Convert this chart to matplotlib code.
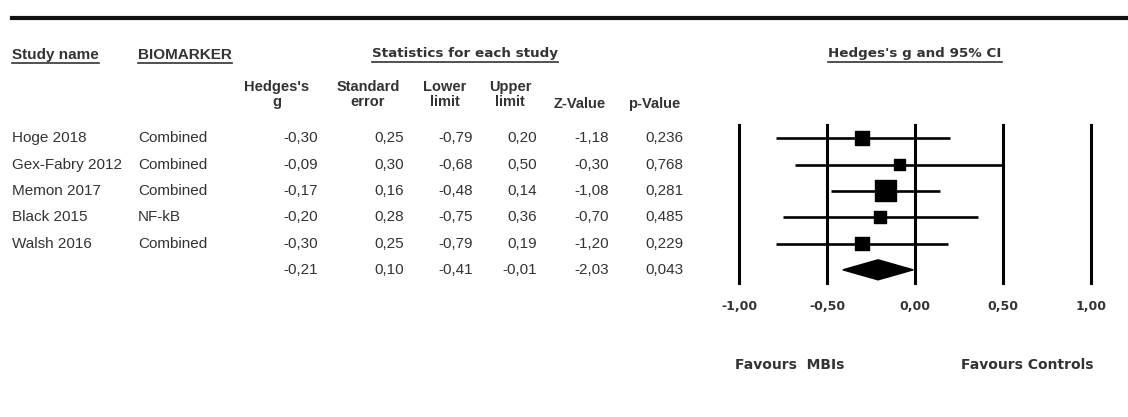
import numpy as np
import matplotlib
matplotlib.use("Agg")
import matplotlib.pyplot as plt
import matplotlib.transforms as mtransforms
from matplotlib.lines import Line2D
from matplotlib.patches import Polygon

# ----------------
# DATA FROM CHART
# ----------------
studies = ["Hoge 2018", "Gex-Fabry 2012", "Memon 2017", "Black 2015", "Walsh 2016"]
biomarker = ["Combined", "Combined", "Combined", "NF-kB", "Combined"]
hedges_g = [-0.30, -0.09, -0.17, -0.20, -0.30]
std_err = [0.25, 0.30, 0.16, 0.28, 0.25]
lower = [-0.79, -0.68, -0.48, -0.75, -0.79]
upper = [0.20, 0.50, 0.14, 0.36, 0.19]
z_val = [-1.18, -0.30, -1.08, -0.70, -1.20]
p_val = [0.236, 0.768, 0.281, 0.485, 0.229]

# pooled (summary) row
pooled_g = -0.21
pooled_se = 0.10
pooled_lower = -0.41
pooled_upper = -0.01
pooled_z = -2.03
pooled_p = 0.043

xticks = [-1.0, -0.5, 0.0, 0.5, 1.0]


def fmt(v, d=2):
    # comma as decimal sign, like the original
    return f"{v:.{d}f}".replace(".", ",")


W, H = 1128, 417
TXT = "#333333"
TABLE_FONT = "Liberation Sans"
HEAD_FONT = "DejaVu Sans"

fig = plt.figure(figsize=(W / 100, H / 100), dpi=100)
fig.patch.set_facecolor("white")

# --------------
# FOREST PANEL
# --------------
ax = fig.add_axes([739 / W, 1 - 283 / H, (1091 - 739) / W, 158 / H])
ax.set_xlim(-1, 1)
ax.set_ylim(5.5, -0.5)
ax.axis("off")

rows = np.arange(len(studies))
for t in xticks:
    ax.axvline(t, color="black", lw=2.2, clip_on=False)

ax.hlines(rows, lower, upper, color="black", lw=1.9, clip_on=False)

# square side proportional to sqrt of inverse-variance weight
w = 1 / np.array(std_err) ** 2
side_px = 3.36 * np.sqrt(w)
side_pt = side_px * 72 / fig.dpi
ax.scatter(hedges_g, rows, marker="s", s=side_pt ** 2, color="black", zorder=3, clip_on=False)

# diamond for pooled effect
yd = len(studies)
hd = 0.38
ax.add_patch(Polygon([(pooled_lower, yd), (pooled_g, yd - hd), (pooled_upper, yd), (pooled_g, yd + hd)],
                     closed=True, color="black", zorder=3, clip_on=False))

xtr = ax.get_xaxis_transform()
for t in xticks:
    ax.text(t, -0.146, fmt(t), transform=xtr, ha="center", va="center",
            fontsize=9, fontweight="bold", family=HEAD_FONT, color=TXT)

fig.text(790 / W, 1 - 365 / H, "Favours  MBIs", ha="center", va="center",
         fontsize=10, fontweight="bold", family=HEAD_FONT, color=TXT)
fig.text(1027 / W, 1 - 365 / H, "Favours Controls", ha="center", va="center",
         fontsize=10, fontweight="bold", family=HEAD_FONT, color=TXT)

# ------------
# TABLE PART
# ------------
trans = mtransforms.blended_transform_factory(fig.transFigure, ax.transData)
FS = 11

cols = [
    (12, "left", studies, None),
    (138, "left", biomarker, None),
    (318, "right", hedges_g, 2),
    (404, "right", std_err, 2),
    (473, "right", lower, 2),
    (537, "right", upper, 2),
    (609, "right", z_val, 2),
    (683, "right", p_val, 3),
]
for x, ha, vals, d in cols:
    for r, v in zip(rows, vals):
        s = v if d is None else fmt(v, d)
        fig.text(x / W, r, s, transform=trans, ha=ha, va="center",
                 fontsize=FS, family=TABLE_FONT, color=TXT)

pooled_vals = [(318, pooled_g, 2), (404, pooled_se, 2), (473, pooled_lower, 2),
               (537, pooled_upper, 2), (609, pooled_z, 2), (683, pooled_p, 3)]
for x, v, d in pooled_vals:
    fig.text(x / W, yd, fmt(v, d), transform=trans, ha="right", va="center",
             fontsize=FS, family=TABLE_FONT, color=TXT)


# column headers
def px_text(x, y, s, **kw):
    return fig.text(x / W, 1 - y / H, s, va="center", color=TXT, **kw)


sub_heads = [(277, "Hedges's", "g"), (368, "Standard", "error"), (445, "Lower", "limit"),
             (510, "Upper", "limit")]
for x, a, b in sub_heads:
    px_text(x, 87, a, ha="center", fontsize=10.5, fontweight="bold", family=TABLE_FONT)
    px_text(x, 102, b, ha="center", fontsize=10.5, fontweight="bold", family=TABLE_FONT)
px_text(580, 104, "Z-Value", ha="center", fontsize=10.5, fontweight="bold", family=TABLE_FONT)
px_text(654, 104, "p-Value", ha="center", fontsize=10.5, fontweight="bold", family=TABLE_FONT)

top_heads = [
    px_text(12, 55, "Study name", ha="left", fontsize=11, fontweight="bold", family=TABLE_FONT),
    px_text(138, 55, "BIOMARKER", ha="left", fontsize=11, fontweight="bold", family=TABLE_FONT),
    px_text(465, 54, "Statistics for each study", ha="center", fontsize=9.7, fontweight="bold", family=HEAD_FONT),
    px_text(915, 54, "Hedges's g and 95% CI", ha="center", fontsize=9.7, fontweight="bold", family=HEAD_FONT),
]

# thick top rule
fig.add_artist(Line2D([12 / W, 1.0], [1 - 18 / H, 1 - 18 / H], lw=3, color="#111111"))

# underline the top headers
fig.canvas.draw()
for t in top_heads:
    bb = t.get_window_extent()
    yl = bb.y0 - 1
    fig.add_artist(Line2D([bb.x0, bb.x1], [yl, yl], lw=1.2, color=TXT,
                          transform=mtransforms.IdentityTransform()))

fig.savefig("out.png", dpi=100, facecolor="white")
